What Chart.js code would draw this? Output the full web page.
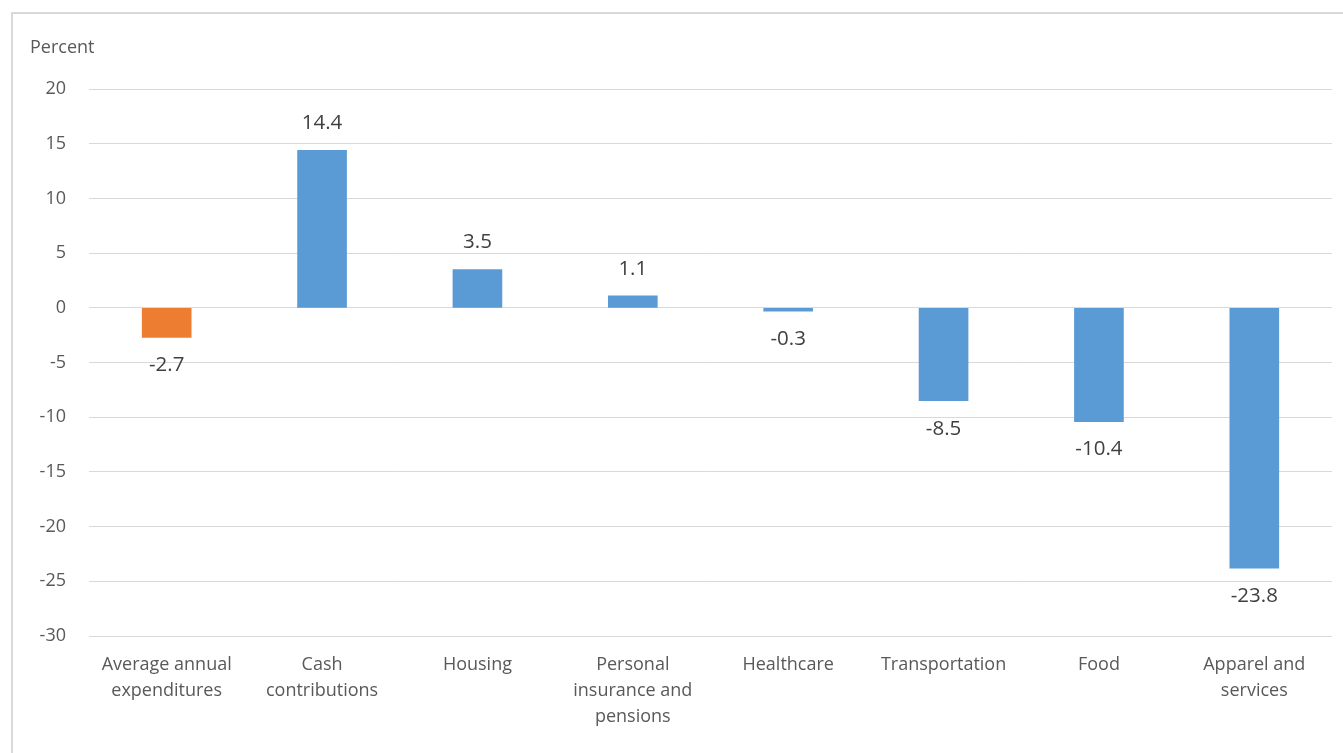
<!DOCTYPE html>
<html>
<head>
<meta charset="utf-8">
<script src="https://cdn.jsdelivr.net/npm/chart.js@4.4.0/dist/chart.umd.min.js"></script>
<style>
  html, body { margin: 0; padding: 0; background: #fff; overflow: hidden; }
  #frame {
    position: absolute; left: 11px; top: 12px;
    width: 1360px; height: 780px;
    border: 2px solid #d9d9d9; box-sizing: border-box;
  }
  #wrap { position: absolute; left: 0; top: 0; width: 1343px; height: 753px; }
</style>
</head>
<body>
<div id="frame"></div>
<div id="wrap"><canvas id="spendingChart"></canvas></div>
<script>
// Kategóriák és értékek
const categories = [
    ['Average annual', 'expenditures'],
    ['Cash', 'contributions'],
    'Housing',
    ['Personal', 'insurance and', 'pensions'],
    'Healthcare',
    'Transportation',
    'Food',
    ['Apparel and', 'services']
];
const changePercent = [-2.7, 14.4, 3.5, 1.1, -0.3, -8.5, -10.4, -23.8];
const yTicks = [20, 15, 10, 5, 0, -5, -10, -15, -20, -25, -30];
const yLabel = 'Percent';

const FONT = '"Open Sans", sans-serif';

// Értékcímkék az oszlopok fölé / alá
const valueLabels = {
    id: 'valueLabels',
    afterDatasetsDraw(chart) {
        const { ctx } = chart;
        const meta = chart.getDatasetMeta(0);
        ctx.save();
        ctx.font = '20.5px ' + FONT;
        ctx.fillStyle = '#404040';
        ctx.textAlign = 'center';
        ctx.textBaseline = 'middle';
        meta.data.forEach((bar, i) => {
            const v = changePercent[i];
            const y = v >= 0 ? bar.y - 27 : bar.y + 28;
            ctx.fillText(v.toFixed(1), bar.x, y);
        });
        ctx.restore();
    }
};

// Tengelycím bal felül
const axisCaption = {
    id: 'axisCaption',
    afterDraw(chart) {
        const { ctx } = chart;
        ctx.save();
        ctx.font = '18px ' + FONT;
        ctx.fillStyle = '#595959';
        ctx.textAlign = 'left';
        ctx.textBaseline = 'middle';
        ctx.fillText(yLabel, 30, 48);
        ctx.restore();
    }
};

const ctx = document.getElementById('spendingChart').getContext('2d');
new Chart(ctx, {
    type: 'bar',
    data: {
        labels: categories,
        datasets: [{
            data: changePercent,
            backgroundColor: c => c.dataIndex === 0 ? '#ED7D31' : '#5B9BD5',
            borderWidth: 0,
            barThickness: 49
        }]
    },
    options: {
        responsive: true,
        maintainAspectRatio: false,
        animation: false,
        layout: { padding: { top: 89, right: 11, bottom: 0, left: 0 } },
        scales: {
            x: {
                grid: { display: false, drawTicks: false },
                border: { display: false },
                ticks: {
                    color: '#595959',
                    font: { family: FONT, size: 18, lineHeight: 1.444 },
                    padding: 16,
                    maxRotation: 0,
                    autoSkip: false
                },
                afterFit: s => { s.height = 117; }
            },
            y: {
                min: -30,
                max: 20,
                afterBuildTicks: s => { s.ticks = yTicks.map(v => ({ value: v })); },
                grid: { color: '#d9d9d9', lineWidth: 1, drawTicks: false },
                border: { display: false },
                ticks: {
                    color: '#595959',
                    font: { family: FONT, size: 18 },
                    padding: 23
                },
                afterFit: s => { s.width = 89; }
            }
        },
        plugins: {
            legend: { display: false },
            tooltip: { enabled: false }
        }
    },
    plugins: [valueLabels, axisCaption]
});
</script>
</body>
</html>
